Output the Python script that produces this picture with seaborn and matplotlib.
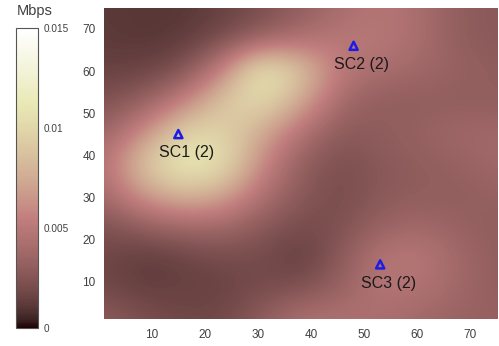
import numpy as np
import pandas as pd
import matplotlib
matplotlib.use("Agg")
import matplotlib.pyplot as plt
import seaborn as sns

# grid node coordinates (metres)
grid_x = [1, 8.4, 15.8, 23.2, 30.6, 38, 45.4, 52.8, 60.2, 67.6, 75]
grid_y = [75, 67.6, 60.2, 52.8, 45.4, 38, 30.6, 23.2, 15.8, 8.4, 1]

# throughput, in 1e-3 Mbps, rows top (y=75) to bottom (y=1)
rate_y75 = [1.2, 1.05, 1.05, 1.5, 2.1, 3.0, 4.0, 4.8, 4.2, 3.0, 2.7]
rate_y68 = [1.2, 1.05, 1.2, 1.8, 3.0, 4.2, 5.0, 5.0, 4.2, 3.0, 2.7]
rate_y60 = [1.5, 1.5, 2.1, 5.3, 11.7, 9.0, 5.0, 4.2, 3.8, 3.3, 3.0]
rate_y53 = [2.2, 3.0, 5.3, 9.0, 10.5, 7.5, 3.8, 3.0, 3.0, 3.0, 3.0]
rate_y45 = [3.3, 6.0, 9.8, 9.8, 7.5, 4.5, 2.7, 3.0, 3.3, 3.8, 3.8]
rate_y38 = [4.5, 9.0, 11.7, 10.8, 6.0, 3.0, 2.1, 2.7, 3.0, 3.3, 3.8]
rate_y31 = [3.8, 6.8, 8.3, 7.5, 4.5, 2.7, 2.0, 2.7, 3.0, 3.0, 3.3]
rate_y23 = [2.2, 3.0, 3.8, 3.8, 2.7, 2.0, 2.2, 3.3, 3.8, 3.3, 3.0]
rate_y16 = [1.8, 1.2, 1.5, 2.0, 2.0, 1.2, 2.7, 4.8, 5.0, 3.8, 3.0]
rate_y08 = [1.8, 1.35, 1.5, 1.5, 2.0, 2.2, 3.3, 4.8, 4.5, 3.8, 3.0]
rate_y01 = [3.0, 2.2, 1.8, 1.8, 3.0, 4.5, 4.5, 4.2, 3.8, 3.3, 3.3]

# small cells
cell_names = ["SC1 (2)", "SC2 (2)", "SC3 (2)"]
cell_x = [15, 48, 53]
cell_y = [45, 66, 14]

cbar_ticks = [0, 0.005, 0.01, 0.015]
cbar_labels = ["0", "0.005", "0.01", "0.015"]
x_ticks = [10, 20, 30, 40, 50, 60, 70]
y_ticks = [10, 20, 30, 40, 50, 60, 70]

field = np.array([rate_y75, rate_y68, rate_y60, rate_y53, rate_y45, rate_y38,
                  rate_y31, rate_y23, rate_y16, rate_y08, rate_y01]) * 1e-3

sns.set_theme(style="white")
plt.rcParams["font.family"] = ["Liberation Sans", "DejaVu Sans"]

fig = plt.figure(figsize=(4.99, 3.46), dpi=100)
ax = fig.add_axes([0.2084, 0.078, 0.7876, 0.899])
cax = fig.add_axes([0.032, 0.052, 0.044, 0.867])

dx = (grid_x[1] - grid_x[0]) / 2
dy = (grid_y[0] - grid_y[1]) / 2
im = ax.imshow(field, cmap="pink", vmin=0, vmax=0.015, interpolation="bicubic",
               extent=[grid_x[0] - dx, grid_x[-1] + dx, grid_y[-1] - dy, grid_y[0] + dy],
               origin="upper", aspect="auto")
ax.set_xlim(1, 75)
ax.set_ylim(1, 75)

cells = pd.DataFrame({"x": cell_x, "y": cell_y, "name": cell_names})
sns.scatterplot(data=cells, x="x", y="y", ax=ax, marker="^", s=34,
                facecolor="none", edgecolor="#1c1ce6", linewidth=1.8, legend=False)
for _, r in cells.iterrows():
    ax.text(r["x"] + 1.5, r["y"] - 4.5, r["name"], ha="center", va="center",
            fontsize=11.5, color="#1a1a1a")

ax.set_xticks(x_ticks)
ax.set_yticks(y_ticks)
ax.set_xlabel("")
ax.set_ylabel("")
ax.tick_params(axis="both", length=0, labelsize=8.5, labelcolor="#404040")
ax.tick_params(axis="x", pad=7)
ax.tick_params(axis="y", pad=6)
for s in ax.spines.values():
    s.set_visible(False)

cb = fig.colorbar(im, cax=cax)
cb.set_ticks(cbar_ticks)
cb.set_ticklabels(cbar_labels)
cb.outline.set_edgecolor("#555555")
cb.outline.set_linewidth(0.8)
cax.tick_params(axis="y", direction="in", length=3, width=0.6, color="#777777",
                labelsize=7.2, labelcolor="#404040", pad=4)
fig.text(17 / 499, 1 - 15.5 / 346, "Mbps", fontsize=10.5, color="#404040",
         ha="left", va="baseline")

fig.savefig("out.png", dpi=100)
